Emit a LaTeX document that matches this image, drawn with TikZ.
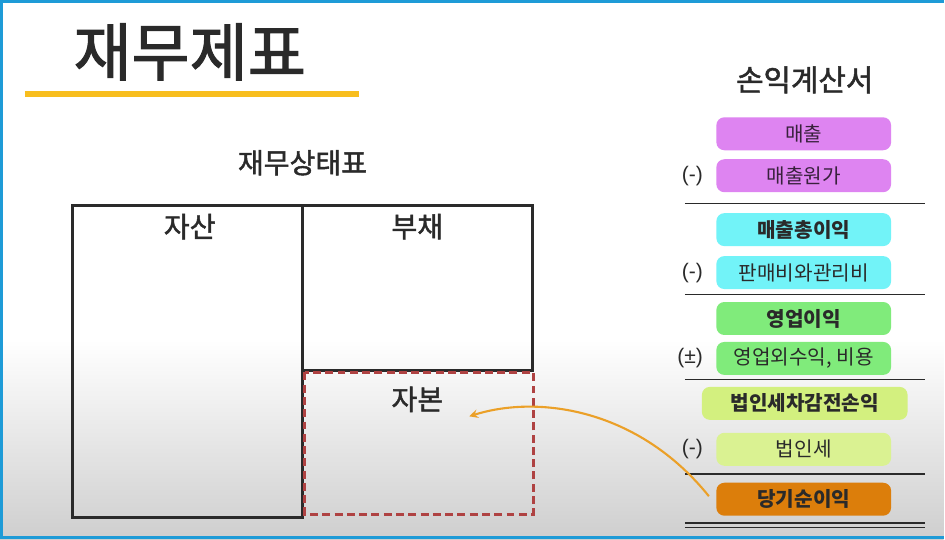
\documentclass[tikz,border=0pt]{standalone}
\usepackage{fontspec}
\setmainfont{Noto Sans CJK KR}
\newfontfamily\krmed[FakeBold=1.6]{Noto Sans CJK KR}
\newfontfamily\signfont{Liberation Sans}
\usetikzlibrary{positioning}
\definecolor{frameblue}{HTML}{1E9BD7}
\definecolor{lineyellow}{HTML}{F8BE1E}
\definecolor{boxred}{HTML}{AF4242}
\definecolor{flowor}{HTML}{EBA028}
\definecolor{pillviolet}{HTML}{DE84F1}
\definecolor{pillcyan}{HTML}{72F3F8}
\definecolor{pillgreen}{HTML}{80EB7B}
\definecolor{pilllime}{HTML}{D3F07F}
\definecolor{pillorange}{HTML}{DC7E0B}
\definecolor{ink}{HTML}{2A2A2A}

\begin{document}
\begin{tikzpicture}[x=0.02cm,y=-0.02cm,>=stealth,
  pill/.style={rounded corners=4.5pt,minimum width=3.5cm,minimum height=0.66cm,inner sep=0pt,font=\fontsize{11.5}{13}\selectfont,text=ink},
  sign/.style={font=\signfont\fontsize{12}{14}\selectfont,text=ink},
  head/.style={font=\krmed\fontsize{16}{19}\selectfont,text=ink},
  bsbox/.style={draw=ink,line width=1.7pt},
  rule/.style={draw=ink,line width=0.9pt}]
    % background and frame
    \fill[white] (0,0) rectangle (945,540);
    \shade[top color=white,bottom color=black!19] (0,340) rectangle (945,540);
    \draw[frameblue,line width=1.7pt] (945,1.5) -- (1.5,1.5) -- (1.5,538.5) -- (945,538.5);

    \node[font=\krmed\fontsize{36}{42}\selectfont,text=ink] (title) at (190,52) {재무제표};
    \draw[lineyellow,line width=3.4pt] (25,94) -- (360,94);

    % balance sheet
    \node[head] (bs) at (303,163) {재무상태표};
    \draw[bsbox] (73,206) rectangle (303,518);
    \draw[bsbox] (303,206) rectangle (533,371);
    \draw[draw=boxred,line width=1.6pt,dash pattern=on 4.5pt off 2.5pt] (305,373) rectangle (534,515);
    \node[head] (assets) at (190,227) {자산};
    \node[head] (debt) at (418,227) {부채};
    \node[head] (equity) at (418,400) {자본};

    % income statement
    \node[head,font=\krmed\fontsize{17}{20}\selectfont] (is) at (806,80) {손익계산서};
    \node[pill,fill=pillviolet,text=black!75!pillviolet] (sales) at (805,134) {매출};
    \node[pill,fill=pillviolet,text=black!75!pillviolet] (cogs) at (805,176) {매출원가};
    \node[sign,left=4pt of cogs] (s1) {(-)};
    \node[pill,fill=pillcyan,font=\fontsize{11.5}{13}\bfseries] (gross) at (805,230) {매출총이익};
    \node[pill,fill=pillcyan] (sga) at (805,273) {판매비와관리비};
    \node[sign,left=4pt of sga] (s2) {(-)};
    \node[pill,fill=pillgreen,font=\fontsize{11.5}{13}\bfseries] (op) at (805,319) {영업이익};
    \node[pill,fill=pillgreen] (nonop) at (805,359) {영업외수익, 비용};
    \node[sign,left=4pt of nonop] (s3) {(±)};
    \node[pill,fill=pilllime,minimum width=4.12cm,font=\fontsize{11.5}{13}\bfseries] (ebt) at (806,404) {법인세차감전손익};
    \node[pill,fill=pilllime!85!white] (tax) at (805,450) {법인세};
    \node[sign,left=4pt of tax] (s4) {(-)};
    \node[pill,fill=pillorange,font=\fontsize{11.5}{13}\bfseries] (net) at (805,500) {당기순이익};

    \draw[rule] (686,204) -- (926,204);
    \draw[rule] (686,295) -- (926,295);
    \draw[rule] (686,380) -- (926,380);
    \draw[rule] (686,475) -- (926,475);
    \draw[rule] (686,524) -- (926,524);
    \draw[rule] (686,528.5) -- (926,528.5);

    % net income flows into equity
    \coordinate (netfoot) at (710,497);
    \coordinate (eqtip) at (470,417);
    \draw[->,flowor,line width=1.2pt] (netfoot) .. controls (640,410) and (540,395) .. (eqtip);
\end{tikzpicture}
\end{document}
